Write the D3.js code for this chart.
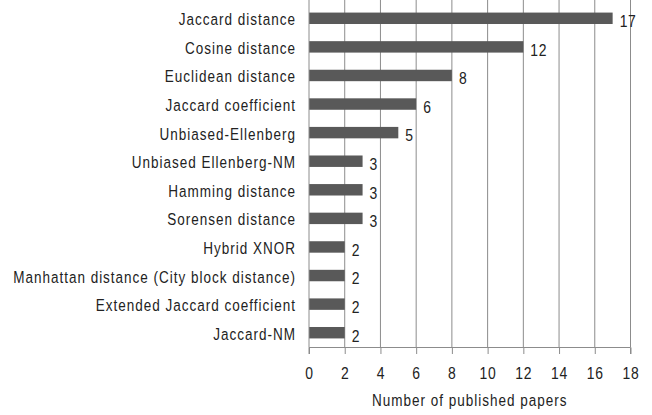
<!DOCTYPE html>
<html><head><meta charset="utf-8">
<script src="https://cdn.jsdelivr.net/npm/d3@7"></script>
<style>
body{margin:0;background:#fff;}
text{font-family:"Liberation Sans",Arial,sans-serif;fill:#222;font-size:16.5px;letter-spacing:1.2px;}
text.num{font-size:17px;letter-spacing:0.8px;}
</style></head>
<body><svg id="c" width="652" height="415"></svg>
<script>
const categories = ["Jaccard distance","Cosine distance","Euclidean distance","Jaccard coefficient","Unbiased-Ellenberg","Unbiased Ellenberg-NM","Hamming distance","Sorensen distance","Hybrid XNOR","Manhattan distance (City block distance)","Extended Jaccard coefficient","Jaccard-NM"];
const values = [17,12,8,6,5,3,3,3,2,2,2,2];
const xTicks = [0,2,4,6,8,10,12,14,16,18];
const xTitle = "Number of published papers";

const SX = 0.82;
const svg = d3.select("#c");
const x = d3.scaleLinear().domain([0,18]).range([309,630.5]);
const y = d3.scaleBand().domain(categories).range([4,347]).paddingInner(0.6).paddingOuter(0.3);
const axisY = 347.5;
const gridColor = "#8c8c8c";

function label(parent, px, py, txt, anchor, cls){
  const g = parent.append("g").attr("transform",`translate(${px},${py}) scale(${SX},1)`);
  g.append("text").attr("class",cls||null).attr("text-anchor",anchor).text(txt);
  return g;
}

// gridlines
svg.append("g").selectAll("line").data(xTicks.slice(1)).join("line")
  .attr("x1",d=>x(d)).attr("x2",d=>x(d)).attr("y1",0).attr("y2",axisY)
  .attr("stroke",gridColor).attr("stroke-width",1);

// bars
svg.append("g").selectAll("rect").data(categories).join("rect")
  .attr("x",x(0)).attr("y",d=>y(d)).attr("height",y.bandwidth())
  .attr("width",(d,i)=>x(values[i])-x(0)).attr("fill","#595959");

// value labels
const vl = svg.append("g");
categories.forEach((d,i)=>label(vl, x(values[i])+7, y(d)+y.bandwidth()/2+8.8, String(values[i]), "start", "num"));

// x axis
const xa = svg.append("g").attr("transform",`translate(0,${axisY})`)
  .call(d3.axisBottom(x).tickValues(xTicks).tickSize(6.5).tickFormat(""));
xa.select(".domain").attr("stroke",gridColor).attr("d",`M${x(0)},6.5V0H${x(18)}V6.5`);
xa.selectAll(".tick line").attr("stroke",gridColor);
const tl = svg.append("g");
xTicks.forEach(t=>label(tl, x(t)+0.4, 378.5, String(t), "middle", "num"));

// y axis line and category labels
svg.append("line").attr("x1",x(0)).attr("x2",x(0)).attr("y1",0).attr("y2",axisY).attr("stroke",gridColor);
const cl = svg.append("g");
categories.forEach(d=>label(cl, 296, y(d)+y.bandwidth()/2+7, d, "end"));

label(svg, (x(0)+x(18))/2, 405.5, xTitle, "middle");
</script></body></html>
